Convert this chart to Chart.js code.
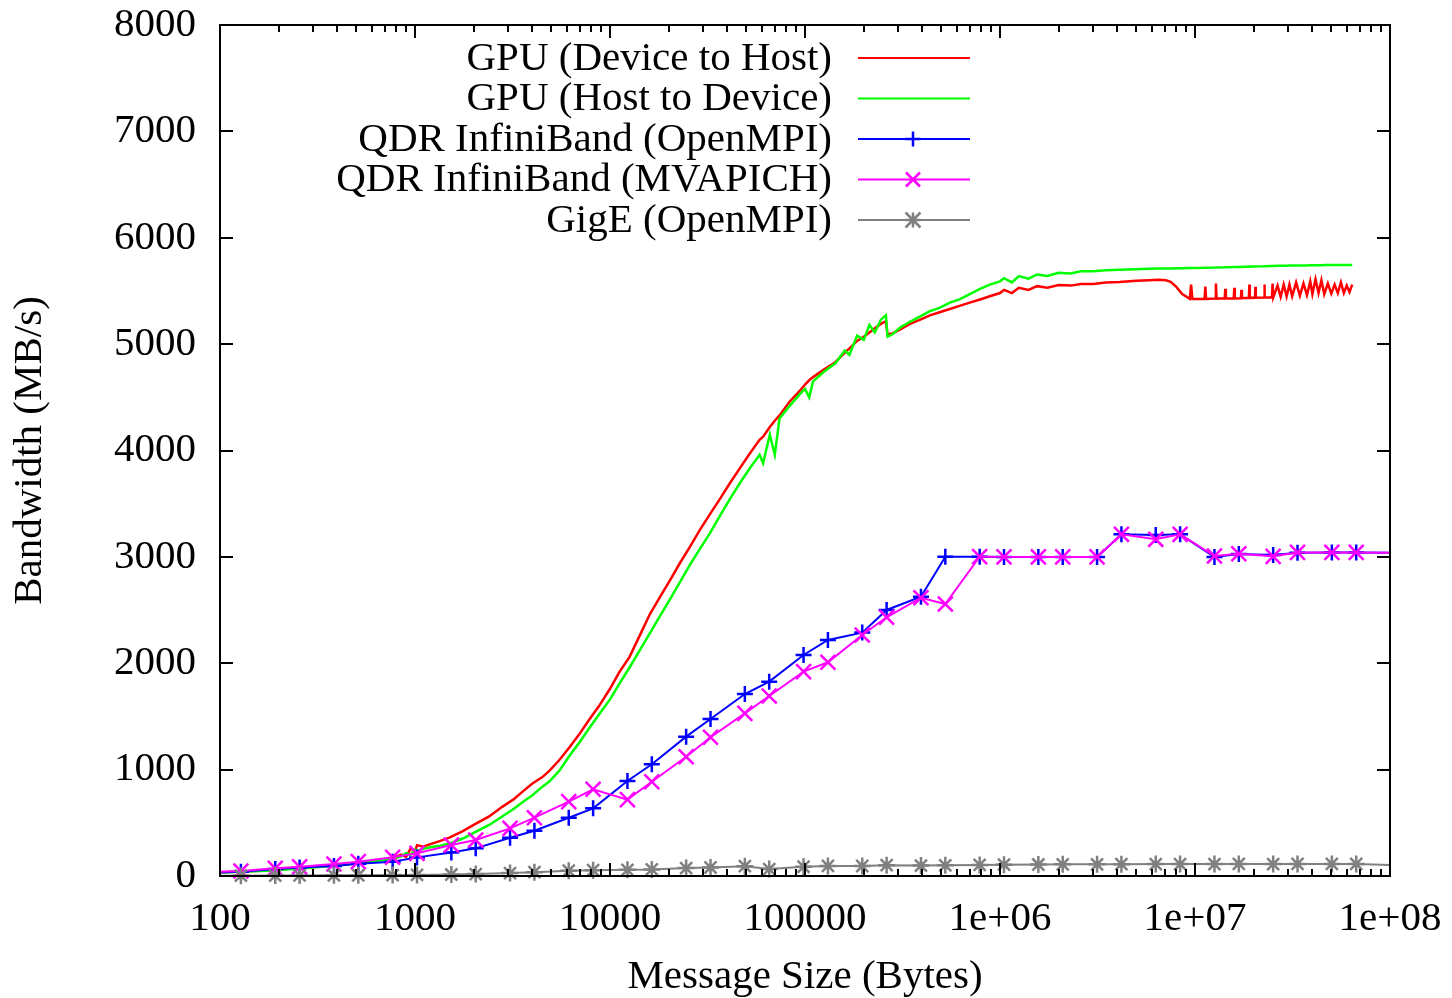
<!DOCTYPE html>
<html>
<head>
<meta charset="utf-8">
<title>Bandwidth vs message size</title>
<script src="https://cdn.jsdelivr.net/npm/chart.js@4.4.1/dist/chart.umd.min.js"></script>
<style>
  html, body { margin: 0; padding: 0; background: #fff; }
  canvas { display: block; }
</style>
</head>
<body>
<canvas id="bwChart" width="1452" height="998"></canvas>
<script>
// message sizes (bytes) of the MPI runs
const ibSizes = [64, 128, 192, 256, 384, 512, 768, 1024, 1536, 2048, 3072, 4096, 6144, 8192,
  12288, 16384, 24576, 32768, 49152, 65536, 98304, 131072, 196608, 262144, 393216, 524288,
  786432, 1048576, 1572864, 2097152, 3145728, 4194304, 6291456, 8388608, 12582912, 16777216,
  25165824, 33554432, 50331648, 67108864, 134217728];
const openmpiBw = [22, 40, 65, 80, 95, 115, 135, 175, 220, 260, 360, 425, 548, 636,
  893, 1050, 1310, 1476, 1711, 1827, 2078, 2219, 2288, 2501, 2626, 3002,
  3002, 3000, 3000, 3000, 3000, 3212, 3205, 3212, 3000, 3027,
  3018, 3039, 3042, 3042, 3035];
const mvapichBw = [25, 47, 72, 86, 113, 135, 176, 213, 291, 338, 448, 548, 699, 815,
  718, 886, 1121, 1304, 1529, 1692, 1921, 2009, 2266, 2432, 2616, 2557,
  3002, 3000, 3000, 3000, 3000, 3212, 3165, 3212, 3008, 3030,
  3005, 3042, 3042, 3042, 3035];
const gigeBw = [2, 3, 4, 5, 6, 7, 9, 10, 14, 18, 28, 36, 50, 55,
  58, 62, 75, 80, 92, 65, 87, 95, 94, 102, 98, 100,
  104, 106, 108, 110, 110, 111, 112, 112, 112, 113,
  112, 113, 113, 113, 95];

// cudaMemcpy sizes (bytes)
const gpuSizes = [100, 128, 160, 200, 256, 320, 400, 512, 640, 768,
  850, 900, 950, 1000, 1024, 1100, 1200, 1350, 1500, 1750,
  2000, 2400, 2800, 3200, 3600, 4000, 4500, 4900, 5500, 6200,
  7000, 7900, 8800, 10000, 11200, 12600, 14200, 16000, 18000, 20300,
  22800, 25600, 28800, 32500, 36500, 41100, 46200, 52000, 58500, 61000,
  66000, 70000, 74000, 83500, 94000, 100000, 105000, 110000, 125000, 143000,
  160000, 169000, 185000, 200000, 214000, 228000, 245000, 260000, 265000, 280000,
  310000, 345000, 390000, 437000, 490000, 553000, 620000, 700000, 790000, 887000,
  1000000, 1050000, 1150000, 1250000, 1400000, 1550000, 1750000, 2000000, 2300000, 2600000,
  3000000, 3500000, 4100000, 5000000, 5800000, 6500000, 7100000, 7500000, 8000000, 8600000,
  9400000, 9550000, 9700000, 11200000, 11300000, 11400000, 12700000, 12800000, 12900000, 14200000,
  14300000, 14400000, 15800000, 15900000, 16000000, 17200000, 17300000, 17400000, 18900000, 19000000,
  19100000, 20300000, 20400000, 20500000, 22600000, 22700000, 22800000, 24800000, 25000000, 25200000,
  26500000, 27500000, 28500000, 29500000, 30500000, 31500000, 33000000, 34500000, 36000000, 37500000,
  39000000, 40000000, 41500000, 43000000, 44500000, 46000000, 48000000, 50000000, 52000000, 54000000,
  56000000, 58000000, 60000000, 62000000, 64000000];
const gpuD2H = [35, 42, 50, 60, 75, 88, 105, 125, 148, 168,
  200, 180, 260, 230, 290, 275, 300, 330, 360, 420,
  480, 560, 650, 720, 800, 870, 930, 990, 1090, 1210,
  1340, 1480, 1600, 1760, 1920, 2060, 2260, 2460, 2620, 2780,
  2940, 3090, 3250, 3400, 3540, 3690, 3830, 3970, 4100, 4130,
  4220, 4280, 4330, 4460, 4560, 4620, 4660, 4690, 4760, 4830,
  4920, 4960, 5030, 5070, 5110, 5150, 5190, 5215, 5090, 5100,
  5140, 5190, 5230, 5270, 5300, 5330, 5360, 5390, 5420, 5450,
  5480, 5510, 5480, 5530, 5510, 5545, 5530, 5555, 5550, 5565,
  5565, 5580, 5585, 5595, 5600, 5605, 5600, 5585, 5540, 5470,
  5425, 5560, 5425, 5425, 5540, 5425, 5428, 5570, 5428, 5430,
  5520, 5430, 5430, 5530, 5430, 5432, 5510, 5432, 5435, 5560,
  5435, 5436, 5540, 5436, 5438, 5560, 5438, 5440, 5570, 5440,
  5550, 5445, 5560, 5448, 5560, 5450, 5580, 5455, 5570, 5460,
  5590, 5470, 5610, 5480, 5600, 5470, 5570, 5475, 5560, 5480,
  5580, 5480, 5550, 5490, 5560];
const gpuH2D = [33, 40, 48, 57, 70, 84, 100, 118, 142, 162,
  185, 215, 200, 250, 235, 255, 270, 285, 305, 350,
  405, 480, 560, 630, 700, 760, 840, 890, 990, 1130,
  1260, 1400, 1520, 1660, 1810, 1960, 2120, 2280, 2440, 2600,
  2760, 2920, 3070, 3220, 3380, 3540, 3690, 3830, 3960, 3880,
  4150, 3960, 4300, 4420, 4530, 4580, 4500, 4650, 4740, 4820,
  4940, 4900, 5080, 5040, 5180, 5110, 5230, 5270, 5070, 5090,
  5160, 5210, 5260, 5310, 5340, 5390, 5420, 5470, 5520, 5560,
  5590, 5620, 5580, 5640, 5615, 5655, 5640, 5670, 5665, 5685,
  5685, 5695, 5700, 5705, 5708, 5710, 5712, 5712, 5713, 5714,
  5715, 5715, 5716, 5717, 5718, 5718, 5720, 5720, 5721, 5722,
  5722, 5723, 5724, 5724, 5725, 5726, 5726, 5727, 5728, 5728,
  5729, 5730, 5730, 5731, 5732, 5732, 5733, 5734, 5734, 5735,
  5736, 5736, 5737, 5737, 5738, 5738, 5739, 5739, 5740, 5740,
  5741, 5741, 5742, 5742, 5742, 5743, 5743, 5743, 5744, 5744,
  5744, 5745, 5745, 5745, 5745];

const xMajorTicks = [100, 1000, 10000, 100000, 1000000, 10000000, 100000000];
const xTickLabels = ['100', '1000', '10000', '100000', '1e+06', '1e+07', '1e+08'];
const yTicks = [0, 1000, 2000, 3000, 4000, 5000, 6000, 7000, 8000];

const seriesNames = ['GPU (Device to Host)', 'GPU (Host to Device)', 'QDR InfiniBand (OpenMPI)',
  'QDR InfiniBand (MVAPICH)', 'GigE (OpenMPI)'];

const FONT = "'Liberation Serif', 'Times New Roman', serif";
const FSIZE = 41;

function pairs(xs, ys) {
  return xs.map((x, i) => ({ x: x, y: ys[i] }));
}

// gnuplot-like marker glyphs for the key
function marker(ctx, style, x, y, r) {
  ctx.beginPath();
  if (style === 'cross' || style === 'star') {
    ctx.moveTo(x - r, y); ctx.lineTo(x + r, y);
    ctx.moveTo(x, y - r); ctx.lineTo(x, y + r);
  }
  if (style === 'crossRot' || style === 'star') {
    ctx.moveTo(x - r, y - r); ctx.lineTo(x + r, y + r);
    ctx.moveTo(x - r, y + r); ctx.lineTo(x + r, y - r);
  }
  ctx.stroke();
}

// border with inward ticks on all four sides
const frameTicks = {
  id: 'frameTicks',
  afterDatasetsDraw(chart) {
    const { ctx, chartArea: a } = chart;
    const x = chart.scales.x, y = chart.scales.y;
    ctx.save();
    ctx.strokeStyle = '#000';
    ctx.lineWidth = 2;
    ctx.beginPath();
    xMajorTicks.forEach(v => {
      const px = Math.round(x.getPixelForValue(v));
      ctx.moveTo(px, a.bottom); ctx.lineTo(px, a.bottom - 13);
      ctx.moveTo(px, a.top); ctx.lineTo(px, a.top + 13);
    });
    for (let d = 100; d < 1e8; d *= 10) {
      for (let m = 2; m <= 9; m++) {
        const px = Math.round(x.getPixelForValue(d * m));
        ctx.moveTo(px, a.bottom); ctx.lineTo(px, a.bottom - 7);
        ctx.moveTo(px, a.top); ctx.lineTo(px, a.top + 7);
      }
    }
    yTicks.forEach(v => {
      const py = Math.round(y.getPixelForValue(v));
      ctx.moveTo(a.left, py); ctx.lineTo(a.left + 13, py);
      ctx.moveTo(a.right, py); ctx.lineTo(a.right - 13, py);
    });
    ctx.stroke();
    ctx.strokeRect(a.left, a.top, a.right - a.left, a.bottom - a.top);
    ctx.restore();
  }
};

// key in the upper left, text right-aligned, sample to its right
const gnuKey = {
  id: 'gnuKey',
  afterDraw(chart) {
    const { ctx, chartArea: a } = chart;
    ctx.save();
    ctx.font = FSIZE + 'px ' + FONT;
    ctx.textAlign = 'right';
    ctx.textBaseline = 'middle';
    chart.data.datasets.forEach((ds, i) => {
      const yy = a.top + 33 + i * 40.5;
      ctx.fillStyle = '#000';
      ctx.fillText(ds.label, a.left + 612, yy + 1);
      ctx.strokeStyle = ds.borderColor;
      ctx.lineWidth = 2;
      ctx.beginPath();
      ctx.moveTo(a.left + 638, yy); ctx.lineTo(a.left + 750, yy);
      ctx.stroke();
      if (ds.pointRadius > 0) {
        ctx.lineWidth = 2.5;
        marker(ctx, ds.pointStyle, a.left + 693, yy, ds.pointStyle === 'crossRot' ? 7 : 7.5);
      }
    });
    ctx.restore();
  }
};

const ibClip = { left: 0, top: 0, right: 0, bottom: 12 };

new Chart(document.getElementById('bwChart'), {
  type: 'line',
  data: {
    datasets: [
      { label: seriesNames[0], data: pairs(gpuSizes, gpuD2H), borderColor: '#ff0000',
        borderWidth: 2.5, pointRadius: 0, order: 5 },
      { label: seriesNames[1], data: pairs(gpuSizes, gpuH2D), borderColor: '#00ff00',
        borderWidth: 2.5, pointRadius: 0, order: 4 },
      { label: seriesNames[2], data: pairs(ibSizes, openmpiBw), borderColor: '#0000ff',
        borderWidth: 2, pointStyle: 'cross', pointRadius: 8, pointBorderWidth: 2.5,
        pointBorderColor: '#0000ff', clip: ibClip, order: 3 },
      { label: seriesNames[3], data: pairs(ibSizes, mvapichBw), borderColor: '#ff00ff',
        borderWidth: 2, pointStyle: 'crossRot', pointRadius: 10.5, pointBorderWidth: 2.5,
        pointBorderColor: '#ff00ff', clip: ibClip, order: 2 },
      { label: seriesNames[4], data: pairs(ibSizes, gigeBw), borderColor: '#808080',
        borderWidth: 2, pointStyle: 'star', pointRadius: 8.5, pointBorderWidth: 2.5,
        pointBorderColor: '#808080', clip: ibClip, order: 1 }
    ]
  },
  options: {
    responsive: false,
    animation: false,
    devicePixelRatio: 1,
    layout: { padding: { top: 25, right: 62, left: 0, bottom: 0 } },
    elements: { line: { tension: 0 } },
    plugins: { legend: { display: false }, tooltip: { enabled: false } },
    scales: {
      x: {
        type: 'logarithmic',
        min: 100,
        max: 100000000,
        afterBuildTicks(scale) {
          scale.ticks = xMajorTicks.map(v => ({ value: v }));
        },
        afterFit(scale) {
          scale.height = 122;
          scale.paddingLeft = 0;
          scale.paddingRight = 0;
        },
        grid: { display: false, drawTicks: false },
        border: { display: false },
        ticks: {
          autoSkip: false,
          maxRotation: 0,
          padding: 19,
          color: '#000',
          font: { family: FONT, size: FSIZE },
          callback: (v, i) => xTickLabels[i]
        },
        title: {
          display: true,
          text: 'Message Size (Bytes)',
          color: '#000',
          font: { family: FONT, size: FSIZE, lineHeight: 1 },
          padding: { top: 0, bottom: 0 }
        }
      },
      y: {
        min: 0,
        max: 8000,
        afterBuildTicks(scale) {
          scale.ticks = yTicks.map(v => ({ value: v }));
        },
        afterFit(scale) {
          scale.width = 220;
          scale.paddingTop = 0;
          scale.paddingBottom = 0;
        },
        grid: { display: false, drawTicks: false },
        border: { display: false },
        ticks: {
          padding: 24,
          color: '#000',
          font: { family: FONT, size: FSIZE },
          callback: v => String(v)
        },
        title: {
          display: true,
          text: 'Bandwidth (MB/s)',
          color: '#000',
          font: { family: FONT, size: FSIZE, lineHeight: 1 },
          padding: { top: 10, bottom: 0 }
        }
      }
    }
  },
  plugins: [frameTicks, gnuKey]
});
</script>
</body>
</html>
